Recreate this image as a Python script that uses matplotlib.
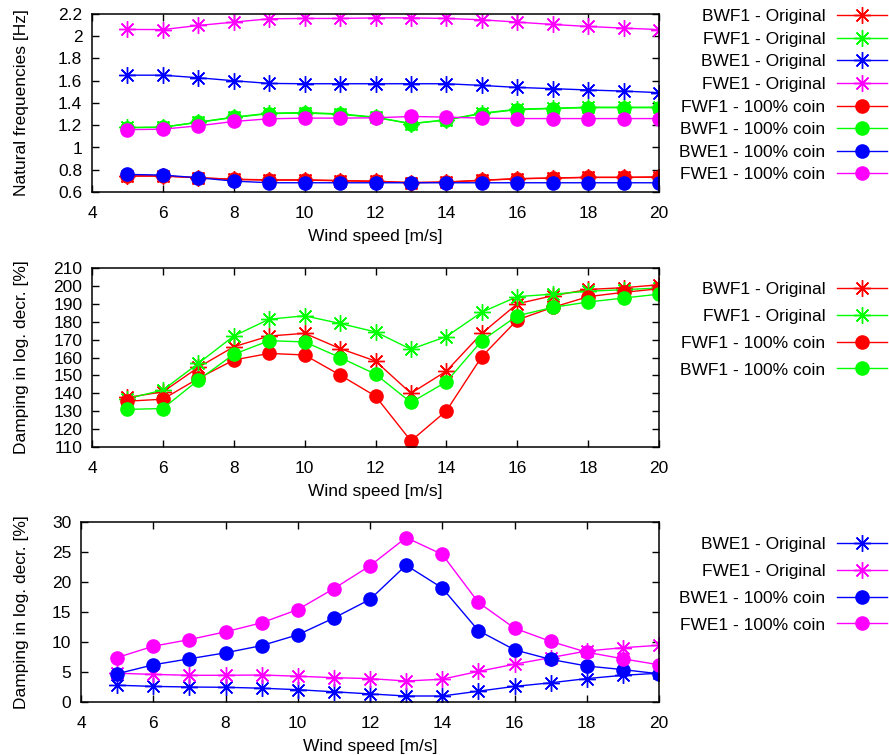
import matplotlib
matplotlib.use("Agg")
import matplotlib.pyplot as plt
from matplotlib.ticker import FormatStrFormatter, MultipleLocator

plt.rcParams['font.family'] = ['Liberation Sans', 'DejaVu Sans']
plt.rcParams['font.size'] = 12.5

wind = [5, 6, 7, 8, 9, 10, 11, 12, 13, 14, 15, 16, 17, 18, 19, 20]

# natural frequencies [Hz]
freq_bwf1_orig = [0.743, 0.743, 0.728, 0.713, 0.707, 0.707, 0.701, 0.695, 0.683, 0.689, 0.704, 0.719, 0.725, 0.731, 0.731, 0.734]
freq_fwf1_orig = [1.18, 1.183, 1.228, 1.273, 1.308, 1.314, 1.302, 1.273, 1.213, 1.249, 1.308, 1.344, 1.353, 1.362, 1.362, 1.362]
freq_bwe1_orig = [1.65, 1.65, 1.627, 1.60, 1.576, 1.573, 1.573, 1.573, 1.573, 1.573, 1.558, 1.54, 1.529, 1.517, 1.507, 1.493]
freq_fwe1_orig = [2.061, 2.06, 2.097, 2.127, 2.157, 2.16, 2.16, 2.165, 2.165, 2.16, 2.148, 2.127, 2.106, 2.088, 2.073, 2.06]
freq_fwf1_coin = [0.745, 0.745, 0.728, 0.715, 0.709, 0.709, 0.703, 0.697, 0.685, 0.69, 0.706, 0.72, 0.726, 0.732, 0.732, 0.735]
freq_bwf1_coin = [1.178, 1.182, 1.226, 1.27, 1.305, 1.31, 1.298, 1.27, 1.215, 1.247, 1.305, 1.34, 1.35, 1.358, 1.358, 1.358]
freq_bwe1_coin = [0.758, 0.752, 0.728, 0.698, 0.683, 0.683, 0.683, 0.683, 0.683, 0.683, 0.683, 0.683, 0.683, 0.683, 0.683, 0.683]
freq_fwe1_coin = [1.16, 1.165, 1.195, 1.234, 1.258, 1.264, 1.264, 1.267, 1.279, 1.273, 1.264, 1.26, 1.26, 1.26, 1.26, 1.26]

# damping of the FW/BW flap modes [%]
damp_bwf1_orig = [137.7, 140.8, 154.5, 166.0, 172.0, 173.5, 165.0, 158.0, 140.0, 152.4, 173.5, 190.0, 194.5, 198.0, 199.0, 200.6]
damp_fwf1_orig = [137.0, 141.8, 156.7, 172.0, 181.4, 183.3, 179.0, 174.3, 164.6, 171.7, 185.3, 194.0, 195.4, 197.0, 197.9, 198.8]
damp_fwf1_coin = [135.6, 136.7, 148.3, 158.6, 162.3, 161.4, 150.2, 138.4, 113.4, 130.2, 160.5, 181.0, 188.0, 194.0, 196.4, 198.4]
damp_bwf1_coin = [131.0, 131.5, 147.4, 161.8, 169.4, 168.7, 160.0, 150.7, 134.9, 146.4, 169.4, 183.3, 188.0, 191.0, 193.2, 195.4]

# damping of the FW/BW edge modes [%]
damp_bwe1_orig = [2.8, 2.6, 2.5, 2.45, 2.3, 2.05, 1.7, 1.35, 1.0, 1.0, 1.8, 2.6, 3.2, 3.9, 4.45, 4.8]
damp_fwe1_orig = [4.8, 4.6, 4.45, 4.45, 4.5, 4.3, 4.05, 3.9, 3.5, 3.8, 5.1, 6.3, 7.4, 8.5, 9.05, 9.45]
damp_bwe1_coin = [4.7, 6.2, 7.2, 8.2, 9.4, 11.2, 14.0, 17.1, 22.8, 19.0, 11.9, 8.7, 7.1, 6.0, 5.4, 4.7]
damp_fwe1_coin = [7.4, 9.3, 10.4, 11.7, 13.2, 15.4, 18.9, 22.7, 27.4, 24.6, 16.6, 12.3, 10.1, 8.3, 7.2, 6.2]

RED, GREEN, BLUE, MAG = '#ff0000', '#00ff00', '#0000ff', '#ff00ff'
STAR = (8, 2, 0)  # gnuplot-like "+" and "x" overlaid

W, H = 889, 755
fig = plt.figure(figsize=(W / 100, H / 100), dpi=100)


def box(left, top, right, bottom):
    # pixel edges -> figure fraction rect
    return [left / W, 1 - bottom / H, (right - left) / W, (bottom - top) / H]


def style(ax, ylim, ystep, ylabel):
    ax.set_xlim(4, 20)
    ax.set_ylim(*ylim)
    ax.xaxis.set_major_locator(MultipleLocator(2))
    ax.yaxis.set_major_locator(MultipleLocator(ystep))
    ax.yaxis.set_major_formatter(FormatStrFormatter('%g'))
    ax.tick_params(direction='in', length=5, width=1, top=True, right=True)
    ax.tick_params(axis='x', pad=10)
    ax.tick_params(axis='y', pad=7)
    for s in ax.spines.values():
        s.set_linewidth(1.1)
    ax.set_xlabel('Wind speed [m/s]', labelpad=6)
    ax.set_ylabel(ylabel)
    # all y labels on the same column near the left edge
    y_mid = fig.transFigure.inverted().transform(ax.transAxes.transform((0, 0.5)))[1]
    ax.yaxis.set_label_coords(29 / W, y_mid, transform=fig.transFigure)


def curve(ax, y, color, marker, label):
    if marker == 'o':
        ax.plot(wind, y, color=color, lw=1.0, marker='o', ms=9.5, label=label)
    else:
        ax.plot(wind, y, color=color, lw=1.0, marker=STAR, ms=12, mew=1.0, label=label)


def legend(ax, top, spacing):
    ax.legend(loc='upper right', bbox_to_anchor=(887 / W, 1 - top / H),
              bbox_transform=fig.transFigure, frameon=False, markerfirst=False,
              handlelength=2.9, handletextpad=0.65, borderpad=0, borderaxespad=0,
              labelspacing=spacing, fontsize=12.5)


# panel 1: natural frequencies
ax1 = fig.add_axes(box(92, 14, 659, 192))
curve(ax1, freq_bwf1_orig, RED, '*', 'BWF1 - Original')
curve(ax1, freq_fwf1_orig, GREEN, '*', 'FWF1 - Original')
curve(ax1, freq_bwe1_orig, BLUE, '*', 'BWE1 - Original')
curve(ax1, freq_fwe1_orig, MAG, '*', 'FWE1 - Original')
curve(ax1, freq_fwf1_coin, RED, 'o', 'FWF1 - 100% coin')
curve(ax1, freq_bwf1_coin, GREEN, 'o', 'BWF1 - 100% coin')
curve(ax1, freq_bwe1_coin, BLUE, 'o', 'BWE1 - 100% coin')
curve(ax1, freq_fwe1_coin, MAG, 'o', 'FWE1 - 100% coin')
style(ax1, (0.6, 2.2), 0.2, 'Natural frequencies [Hz]')
legend(ax1, 9, 0.43)

# panel 2: flap mode damping
ax2 = fig.add_axes(box(92, 268, 659, 447))
curve(ax2, damp_bwf1_orig, RED, '*', 'BWF1 - Original')
curve(ax2, damp_fwf1_orig, GREEN, '*', 'FWF1 - Original')
curve(ax2, damp_fwf1_coin, RED, 'o', 'FWF1 - 100% coin')
curve(ax2, damp_bwf1_coin, GREEN, 'o', 'BWF1 - 100% coin')
style(ax2, (110, 210), 10, 'Damping in log. decr. [%]')
legend(ax2, 282, 0.67)

# panel 3: edge mode damping
ax3 = fig.add_axes(box(81, 522, 659, 702))
curve(ax3, damp_bwe1_orig, BLUE, '*', 'BWE1 - Original')
curve(ax3, damp_fwe1_orig, MAG, '*', 'FWE1 - Original')
curve(ax3, damp_bwe1_coin, BLUE, 'o', 'BWE1 - 100% coin')
curve(ax3, damp_fwe1_coin, MAG, 'o', 'FWE1 - 100% coin')
style(ax3, (0, 30), 5, 'Damping in log. decr. [%]')
legend(ax3, 537, 0.67)

fig.savefig('out.png', dpi=100)
